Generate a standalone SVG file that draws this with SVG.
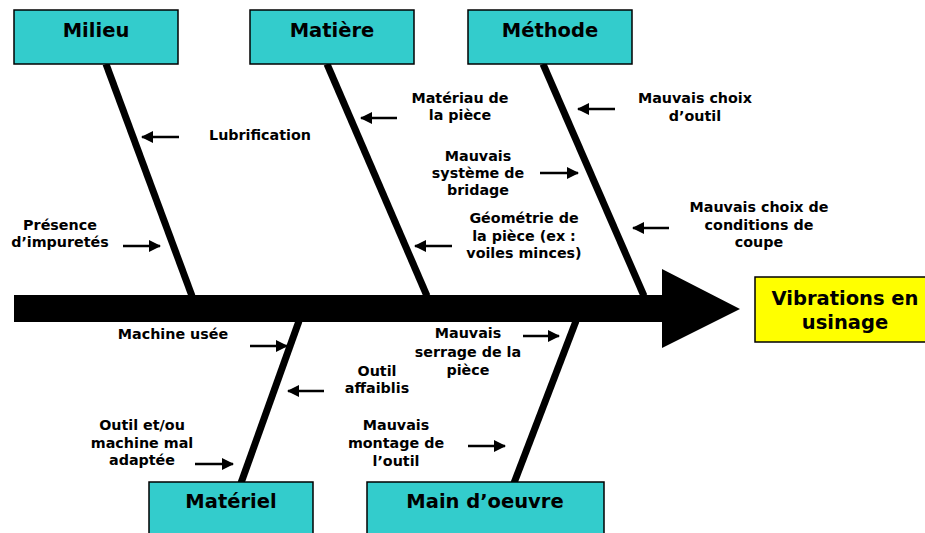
<svg xmlns="http://www.w3.org/2000/svg" width="925" height="533" viewBox="0 0 925 533">
<defs>
<style>
.cat{fill:#33CCCC;stroke:#000;stroke-width:1.5}
.eff{fill:#FFFF00;stroke:#000;stroke-width:1.5}
.lbl{font-family:"DejaVu Sans",Verdana,sans-serif;font-weight:bold;font-size:19.5px;fill:#000;text-anchor:middle}
.t{font-family:"DejaVu Sans",Verdana,sans-serif;font-weight:bold;font-size:14.3px;fill:#000;text-anchor:middle}
.bone{stroke:#000;stroke-width:7;fill:none}
.sa{stroke:#000;stroke-width:2.5;fill:none;marker-end:url(#ah)}
</style>
<marker id="ah" viewBox="0 0 12 12" refX="11" refY="6" markerWidth="12" markerHeight="12" markerUnits="userSpaceOnUse" orient="auto">
<path d="M0,0 L12,6 L0,12 Z" fill="#000"/>
</marker>
</defs>
<rect width="925" height="533" fill="#fff"/>
<g id="connectors">
<polygon points="14,295 662,295 662,269 740,309 662,348 662,322 14,322" fill="#000"/>
<line class="bone" x1="106" y1="64" x2="192" y2="296"/>
<line class="bone" x1="327" y1="64" x2="427" y2="296"/>
<line class="bone" x1="543" y1="64" x2="644" y2="296"/>
<line class="bone" x1="299" y1="321" x2="241" y2="483"/>
<line class="bone" x1="576" y1="321" x2="514" y2="483"/>
<line class="sa" x1="179" y1="137" x2="142" y2="137"/>
<line class="sa" x1="123" y1="246" x2="160" y2="246"/>
<line class="sa" x1="397" y1="118" x2="361" y2="118"/>
<line class="sa" x1="540" y1="173" x2="578" y2="173"/>
<line class="sa" x1="452" y1="246" x2="415" y2="246"/>
<line class="sa" x1="615" y1="109" x2="578" y2="109"/>
<line class="sa" x1="669" y1="228" x2="633" y2="228"/>
<line class="sa" x1="250" y1="346" x2="287" y2="346"/>
<line class="sa" x1="324" y1="391" x2="288" y2="391"/>
<line class="sa" x1="523" y1="336" x2="559" y2="336"/>
<line class="sa" x1="468" y1="446" x2="505" y2="446"/>
<line class="sa" x1="195" y1="464" x2="233" y2="464"/>
</g>
<g id="milieu"><rect class="cat" x="14" y="10" width="164" height="54"/><text class="lbl" x="96" y="37">Milieu</text></g>
<g id="matiere"><rect class="cat" x="250" y="10" width="164" height="54"/><text class="lbl" x="332" y="37">Matière</text></g>
<g id="methode"><rect class="cat" x="468" y="10" width="164" height="54"/><text class="lbl" x="550" y="37">Méthode</text></g>
<g id="materiel"><rect class="cat" x="149" y="482" width="164" height="60"/><text class="lbl" x="231" y="508">Matériel</text></g>
<g id="main-oeuvre"><rect class="cat" x="367" y="482" width="237" height="60"/><text class="lbl" x="485" y="508">Main d’oeuvre</text></g>
<g id="effet"><rect class="eff" x="755" y="277" width="180" height="65"/><text class="lbl" x="845" y="305">Vibrations en</text><text class="lbl" x="845" y="329">usinage</text></g>
<g id="causes">
<text class="t" x="260" y="140">Lubrification</text>
<text class="t" x="60" y="230">Présence</text><text class="t" x="60" y="247">d’impuretés</text>
<text class="t" x="460" y="103">Matériau de</text><text class="t" x="460" y="120">la pièce</text>
<text class="t" x="478" y="161">Mauvais</text><text class="t" x="478" y="178">système de</text><text class="t" x="478" y="195">bridage</text>
<text class="t" x="524" y="223">Géométrie de</text><text class="t" x="524" y="241">la pièce (ex :</text><text class="t" x="524" y="258">voiles minces)</text>
<text class="t" x="695" y="103">Mauvais choix</text><text class="t" x="695" y="121">d’outil</text>
<text class="t" x="759" y="212">Mauvais choix de</text><text class="t" x="759" y="230">conditions de</text><text class="t" x="759" y="247">coupe</text>
<text class="t" x="173" y="339">Machine usée</text>
<text class="t" x="377" y="376">Outil</text><text class="t" x="377" y="393">affaiblis</text>
<text class="t" x="468" y="338">Mauvais</text><text class="t" x="468" y="357">serrage de la</text><text class="t" x="468" y="375">pièce</text>
<text class="t" x="396" y="430">Mauvais</text><text class="t" x="396" y="448">montage de</text><text class="t" x="396" y="466">l’outil</text>
<text class="t" x="142" y="430">Outil et/ou</text><text class="t" x="142" y="448">machine mal</text><text class="t" x="142" y="465">adaptée</text>
</g>
</svg>
